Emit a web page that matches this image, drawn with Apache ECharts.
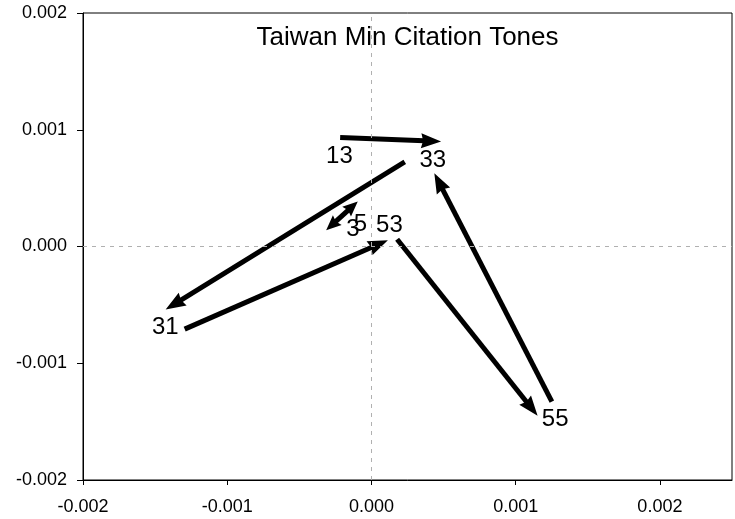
<!DOCTYPE html>
<html>
<head>
<meta charset="utf-8">
<script src="https://cdn.jsdelivr.net/npm/echarts@6/dist/echarts.min.js"></script>
<style>
html,body{margin:0;padding:0;background:#fff;}
#chart{width:735px;height:519px;}
</style>
</head>
<body>
<div id="chart"></div>
<script>
// Arrow start and end points (tone transitions)
var arrowFrom = [[-0.000217, 0.000934], [0.000231, 0.000725], [-0.001295, -0.000708], [0.000178, 0.0000625], [0.001251, -0.001328]];
var arrowTo   = [[0.000483, 0.000899], [-0.001427, -0.00054], [0.000114, 0.000054], [0.001152, -0.00145], [0.000436, 0.000628]];
// Double-headed short arrow
var doubleFrom = [-0.000314, 0.00014];
var doubleTo   = [-0.000095, 0.000385];
// Tone labels and their positions
var labelNames = ['13', '33', '31', '53', '55', '5', '3'];
var labelX = [-0.000222, 0.000425, -0.001429, 0.000125, 0.001274, -0.000076, -0.000129];
var labelY = [0.00077, 0.000734, -0.000694, 0.000183, -0.001485, 0.000191, 0.000143];
// Axis ticks
var xMin = -0.002, xMax = 0.0025, yMin = -0.002, yMax = 0.002, tickStep = 0.001;
var titleText = 'Taiwan Min Citation Tones';

var FONT = "'Liberation Sans', Arial, sans-serif";
var chart = echarts.init(document.getElementById('chart'), null, {renderer: 'canvas'});

// rows: x1, y1, x2, y2, doubleHeaded(0/1)
var arrowRows = arrowFrom.map(function (p, i) { return [p[0], p[1], arrowTo[i][0], arrowTo[i][1], 0]; });
arrowRows.push([doubleFrom[0], doubleFrom[1], doubleTo[0], doubleTo[1], 1]);
var labelRows = labelNames.map(function (n, i) { return [labelX[i], labelY[i], n]; });

function headPoints(tip, ux, uy, L, W, notch) {
  var nx = -uy, ny = ux;
  return [
    [tip[0], tip[1]],
    [tip[0] - L * ux + W * nx, tip[1] - L * uy + W * ny],
    [tip[0] - (L - notch) * ux, tip[1] - (L - notch) * uy],
    [tip[0] - L * ux - W * nx, tip[1] - L * uy - W * ny]
  ];
}

function renderArrow(params, api) {
  var a = api.coord([api.value(0), api.value(1)]);
  var b = api.coord([api.value(2), api.value(3)]);
  var dbl = api.value(4) === 1;
  var dx = b[0] - a[0], dy = b[1] - a[1];
  var len = Math.sqrt(dx * dx + dy * dy);
  var ux = dx / len, uy = dy / len;
  var L = dbl ? 15 : 20, W = dbl ? 6.5 : 7.5, notch = 2;
  var s = dbl ? [a[0] + (L - 3) * ux, a[1] + (L - 3) * uy] : a;
  var e = [b[0] - (L - 3) * ux, b[1] - (L - 3) * uy];
  var children = [{
    type: 'line',
    shape: {x1: s[0], y1: s[1], x2: e[0], y2: e[1]},
    style: {stroke: '#000', lineWidth: 5, lineCap: 'butt'}
  }, {
    type: 'polygon',
    shape: {points: headPoints(b, ux, uy, L, W, notch)},
    style: {fill: '#000'}
  }];
  if (dbl) {
    children.push({
      type: 'polygon',
      shape: {points: headPoints(a, -ux, -uy, L, W, notch)},
      style: {fill: '#000'}
    });
  }
  return {type: 'group', children: children};
}

function renderLabel(params, api) {
  var p = api.coord([api.value(0), api.value(1)]);
  return {
    type: 'text', x: p[0], y: p[1],
    style: {text: labelRows[params.dataIndex][2], fill: '#000', font: '24px ' + FONT, textAlign: 'center', textVerticalAlign: 'middle'}
  };
}

function fmt(v) { var s = (Math.round(v * 1e6) / 1e6).toFixed(3); return s === '-0.000' ? '0.000' : s; }

var option = {
  animation: false,
  backgroundColor: '#fff',
  textStyle: {fontFamily: FONT},
  grid: {left: 83, right: 3, top: 13, bottom: 39, show: true, borderColor: '#000', borderWidth: 1},
  graphic: [{
    type: 'text', x: 407.5, y: 38,
    style: {text: titleText, font: '26px ' + FONT, fill: '#000', textAlign: 'center', textVerticalAlign: 'middle'}
  }],
  xAxis: {
    type: 'value', min: xMin, max: xMax, interval: tickStep,
    axisLine: {onZero: false, lineStyle: {color: '#000', width: 1}},
    axisTick: {show: true, inside: false, length: 5, lineStyle: {color: '#000'}},
    splitLine: {show: false},
    axisLabel: {color: '#000', fontSize: 18, fontFamily: FONT, margin: 18, showMaxLabel: false, formatter: fmt}
  },
  yAxis: {
    type: 'value', min: yMin, max: yMax, interval: tickStep,
    axisLine: {onZero: false, lineStyle: {color: '#000', width: 1}},
    axisTick: {show: true, inside: false, length: 6, lineStyle: {color: '#000'}},
    splitLine: {show: false},
    axisLabel: {color: '#000', fontSize: 18, fontFamily: FONT, margin: 16, formatter: fmt}
  },
  series: [
    {
      type: 'scatter', data: [], silent: true,
      markLine: {
        silent: true, symbol: 'none', label: {show: false},
        lineStyle: {color: '#b0b0b0', width: 1, type: [4, 5]},
        data: [{xAxis: 0}, {yAxis: 0}]
      }
    },
    {
      type: 'custom', silent: true,
      encode: {x: [0, 2], y: [1, 3]},
      renderItem: renderArrow,
      data: arrowRows
    },
    {
      type: 'custom', silent: true,
      encode: {x: 0, y: 1},
      renderItem: renderLabel,
      data: labelRows
    }
  ]
};
chart.setOption(option);
</script>
</body>
</html>
